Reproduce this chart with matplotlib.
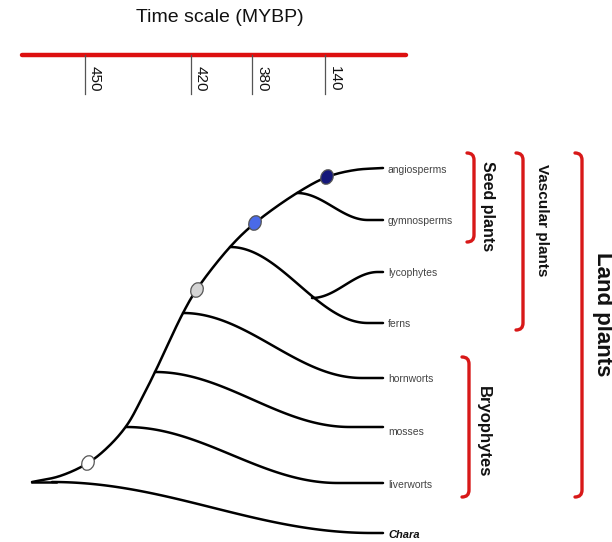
import numpy as np
import matplotlib
matplotlib.use("Agg")
import matplotlib.pyplot as plt
from matplotlib.patches import Ellipse
from matplotlib.path import Path
from matplotlib.patches import PathPatch

# ---- data ----
time_title = "Time scale (MYBP)"
time_labels = ["450", "420", "380", "140"]
taxa = ["angiosperms", "gymnosperms", "lycophytes", "ferns",
        "hornworts", "mosses", "liverworts", "Chara"]
clades = ["Seed plants", "Vascular plants", "Land plants", "Bryophytes"]
node_colors = ["white", "#d4d4d4", "#4a6ae8", "#15187a"]

# ---- layout (pixel coordinates) ----
W, H = 612, 542
fig = plt.figure(figsize=(W / 100, H / 100), dpi=100)
ax = fig.add_axes([0, 0, 1, 1])
ax.set_xlim(0, W)
ax.set_ylim(H, 0)
ax.axis("off")
FONT = "Liberation Sans"

# time scale
ax.plot([22, 406], [55, 55], color="#dd1010", lw=3.2, solid_capstyle="round")
tick_x = [85, 191, 252, 325]
for x, lab in zip(tick_x, time_labels):
    ax.plot([x, x], [55, 94], color="#555555", lw=0.9)
    ax.text(x + 3, 66, lab, rotation=-90, ha="left", va="top",
            fontsize=11, family=FONT, color="#111111")
ax.text(220, 18, time_title, ha="center", va="center", fontsize=14,
        family=FONT, color="#111111")

# tree
def catmull(pts, n=40, alpha=0.5):
    pts = np.asarray(pts, float)
    P = np.vstack([2 * pts[0] - pts[1], pts, 2 * pts[-1] - pts[-2]])
    out = []
    for i in range(1, len(P) - 2):
        p0, p1, p2, p3 = P[i - 1], P[i], P[i + 1], P[i + 2]
        t0 = 0.0
        t1 = t0 + np.linalg.norm(p1 - p0) ** alpha
        t2 = t1 + np.linalg.norm(p2 - p1) ** alpha
        t3 = t2 + np.linalg.norm(p3 - p2) ** alpha
        t = np.linspace(t1, t2, n)[:, None]
        A1 = (t1 - t) / (t1 - t0) * p0 + (t - t0) / (t1 - t0) * p1
        A2 = (t2 - t) / (t2 - t1) * p1 + (t - t1) / (t2 - t1) * p2
        A3 = (t3 - t) / (t3 - t2) * p2 + (t - t2) / (t3 - t2) * p3
        B1 = (t2 - t) / (t2 - t0) * A1 + (t - t0) / (t2 - t0) * A2
        B2 = (t3 - t) / (t3 - t1) * A2 + (t - t1) / (t3 - t1) * A3
        out.append((t2 - t) / (t2 - t1) * B1 + (t - t1) / (t2 - t1) * B2)
    return np.vstack(out)

backbone = [(32, 482), (60, 476), (88, 463), (109, 446), (127, 425),
            (141, 400), (155, 372), (183, 313), (197, 289), (230, 247),
            (255, 223), (297, 193), (327, 177), (355, 170), (383, 168)]
bb = catmull(backbone)
LW = 1.8
ax.plot(bb[:, 0], bb[:, 1], color="black", lw=LW, solid_capstyle="round")

XEND = 383

def branch(x0, y0, x1, y1, xend=XEND):
    x = np.linspace(x0, x1, 80)
    t = (x - x0) / (x1 - x0)
    y = y0 + (y1 - y0) * (1 - np.cos(np.pi * t)) / 2
    x = np.append(x, xend)
    y = np.append(y, y1)
    ax.plot(x, y, color="black", lw=LW, solid_capstyle="round")

branch(297, 193, 368, 220)          # gymnosperms
branch(230, 247, 368, 323)          # ferns
branch(312, 298, 378, 272)          # lycophytes
branch(183, 313, 362, 378)          # hornworts
branch(155, 372, 350, 427)          # mosses
branch(126, 427, 338, 483)          # liverworts
branch(52, 482, 372, 533)           # Chara
ax.plot([32, 56], [482, 482], color="black", lw=LW)

# nodes
for (x, y), c in zip([(88, 463), (197, 290), (255, 223), (327, 177)], node_colors):
    ax.add_patch(Ellipse((x, y), 12, 15, angle=25, facecolor=c,
                         edgecolor="#555555", lw=0.9, zorder=5))

# taxa labels
tip_y = [169, 220, 272, 323, 378, 431, 484, 534]
for name, y in zip(taxa, tip_y):
    if name == "Chara":
        ax.text(388, y + 1, name, ha="left", va="center", fontsize=8,
                family=FONT, style="italic", weight="bold", color="#111111")
    else:
        ax.text(388, y + 1, name, ha="left", va="center", fontsize=7.5,
                family=FONT, color="#444444")

# brackets
def bracket(x, y0, y1, hook=7):
    verts = [(x - hook, y0), (x, y0), (x, y0 + hook), (x, y1 - hook),
             (x, y1), (x - hook, y1)]
    codes = [Path.MOVETO, Path.CURVE3, Path.CURVE3, Path.LINETO,
             Path.CURVE3, Path.CURVE3]
    ax.add_patch(PathPatch(Path(verts, codes), facecolor="none",
                           edgecolor="#d81818", lw=2.4, capstyle="round"))

bracket(474, 153, 242)
bracket(523, 153, 330)
bracket(582, 153, 497)
bracket(469, 357, 497)

ax.text(487, 206, clades[0], rotation=-90, ha="center", va="center",
        fontsize=11.5, weight="bold", family=FONT, color="#111111")
ax.text(542, 220, clades[1], rotation=-90, ha="center", va="center",
        fontsize=11, weight="bold", family=FONT, color="#111111")
ax.text(603, 314, clades[2], rotation=-90, ha="center", va="center",
        fontsize=16, weight="bold", family=FONT, color="#111111")
ax.text(483, 432, clades[3], rotation=-90, ha="center", va="center",
        fontsize=12, weight="bold", family=FONT, color="#111111")

fig.savefig("out.png", dpi=100)
